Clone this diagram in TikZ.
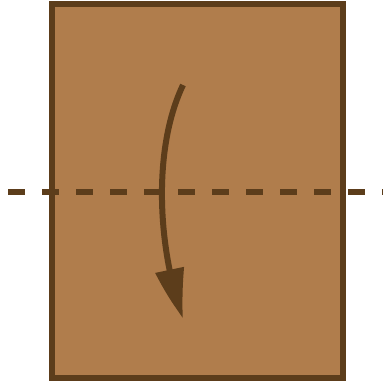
\documentclass[tikz,border=0pt]{standalone}
\usepackage{tikz}
\usetikzlibrary{arrows.meta,bending}
\definecolor{paper}{HTML}{B07D4C}
\definecolor{edge}{HTML}{5C3D1B}

\begin{document}
\begin{tikzpicture}[x=1pt,y=-1pt]
  \useasboundingbox (0,0) rectangle (383,383);
  \filldraw[fill=paper,draw=edge,line width=6pt] (52,3.5) rectangle (342.5,378);
  \draw[edge,line width=6pt,dash pattern=on 17pt off 17pt] (8,191.5)--(383,191.5);
  \draw[edge,line width=6pt,-{Triangle[length=48pt,width=28pt,bend]}]
    (183,85) .. controls (152,150) and (158,250) .. (183,318);
\end{tikzpicture}
\end{document}
